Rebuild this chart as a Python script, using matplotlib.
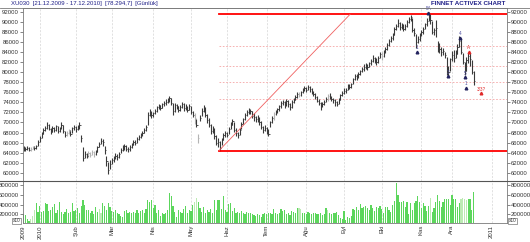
import matplotlib
matplotlib.use('Agg')
import matplotlib.pyplot as plt
import numpy as np

plt.rcParams['font.family'] = ['Liberation Sans Narrow', 'Liberation Sans', 'DejaVu Sans']

# daily XU030 bars, values in thousands
close = [64.9, 64.7, 65.0, 64.6, 64.8, 65.1, 64.9, 65.3, 66.2, 67.0,
         67.8, 68.6, 68.9, 69.6, 68.8, 68.2, 69.0, 68.5, 69.3, 68.4,
         68.9, 69.6, 68.3, 67.6, 67.9, 68.4, 67.8, 68.9, 69.2, 68.7,
         69.3, 69.6, 67.0, 63.0, 63.8, 63.4, 63.9, 63.6, 64.1, 63.7,
         64.2, 65.2, 65.8, 66.4, 66.2, 64.6, 62.4, 60.5, 61.8, 62.6,
         62.9, 63.4, 63.1, 63.8, 64.6, 65.0, 65.4, 64.8, 64.7, 65.1,
         65.6, 66.2, 66.0, 66.8, 67.2, 67.5, 68.0, 68.6, 69.2, 71.5,
         72.0, 71.4, 71.8, 72.2, 73.0, 73.4, 72.9, 73.6, 73.8, 74.1,
         74.3, 74.8, 73.9, 72.2, 73.4, 73.2, 72.5, 73.0, 73.6, 72.8,
         73.0, 72.4, 73.2, 72.0, 71.4, 70.8, 69.6, 66.9, 70.8, 72.2,
         72.8, 71.4, 70.4, 69.6, 68.4, 68.8, 67.4, 66.0, 66.2, 64.9,
         66.6, 67.6, 68.0, 67.6, 68.8, 69.6, 70.2, 68.6, 68.0, 67.6,
         68.6, 69.8, 70.6, 71.4, 72.0, 72.4, 72.2, 71.2, 71.0, 70.6,
         70.9, 70.0, 69.2, 68.6, 69.0, 68.2, 67.8, 70.0, 70.8, 71.6,
         72.0, 72.6, 73.2, 73.8, 74.0, 73.4, 74.2, 73.6, 73.0, 74.0,
         74.4, 75.0, 75.6, 75.4, 76.0, 76.4, 76.9, 76.5, 77.1, 76.6,
         75.9, 75.6, 75.0, 74.2, 73.8, 73.2, 73.6, 74.0, 74.6, 75.2,
         75.0, 74.6, 74.4, 74.0, 73.6, 74.4, 75.4, 75.8, 76.2, 76.5,
         77.2, 77.0, 77.6, 78.6, 79.2, 79.0, 79.6, 80.2, 80.6, 81.0,
         81.4, 81.0, 81.8, 82.2, 82.8, 82.4, 82.0, 82.9, 83.6, 83.2,
         84.0, 84.6, 85.4, 86.2, 86.8, 87.4, 88.6, 89.2, 89.8, 89.0,
         89.4, 88.6, 89.3, 90.0, 90.6, 91.0, 88.4, 87.8, 86.0, 86.6,
         87.4, 88.0, 88.6, 89.6, 90.2, 91.2, 90.4, 88.0, 88.4, 88.9,
         85.2, 84.6, 84.0, 84.2, 83.4, 80.2, 80.0, 82.6, 83.4, 82.8,
         83.6, 85.0, 86.2, 84.0, 82.0, 80.2, 82.4, 83.2, 82.6, 80.0, 78.3]

high = [65.3, 65.2, 65.3, 65.1, 65.2, 65.4, 65.4, 65.6, 66.5, 67.4,
        68.2, 69.0, 69.4, 70.0, 69.7, 68.9, 69.3, 69.2, 69.6, 69.4,
        69.2, 70.0, 69.6, 68.4, 68.4, 68.7, 68.5, 69.2, 69.6, 69.3,
        69.6, 70.0, 67.5, 65.2, 64.3, 64.0, 64.3, 64.2, 64.6, 64.3,
        64.6, 65.4, 66.1, 66.9, 66.7, 65.4, 63.4, 62.2, 62.6, 62.9,
        63.3, 63.9, 63.8, 64.2, 64.9, 65.6, 65.8, 65.5, 65.2, 65.5,
        65.9, 66.5, 66.6, 67.1, 67.6, 67.9, 68.4, 68.9, 69.6, 72.0,
        72.7, 72.3, 72.1, 72.6, 73.3, 73.7, 73.5, 73.9, 74.3, 74.6,
        74.8, 75.2, 74.9, 73.9, 73.8, 73.7, 73.3, 73.5, 74.1, 73.8,
        73.6, 73.2, 73.6, 73.3, 72.3, 71.8, 70.6, 67.8, 71.4, 72.8,
        73.5, 73.0, 71.6, 70.8, 69.7, 69.4, 68.9, 67.6, 66.9, 66.4,
        67.0, 68.0, 68.4, 68.2, 69.2, 70.0, 70.6, 70.1, 68.9, 68.2,
        68.9, 70.1, 70.9, 71.8, 72.4, 72.8, 72.7, 72.3, 71.8, 71.2,
        71.4, 71.1, 70.2, 69.4, 69.5, 69.2, 68.7, 70.3, 71.3, 72.0,
        72.4, 72.9, 73.5, 74.3, 74.5, 74.2, 74.6, 74.5, 73.8, 74.4,
        74.8, 75.4, 76.0, 76.1, 76.3, 76.8, 77.2, 77.1, 77.5, 77.3,
        76.8, 76.3, 75.9, 75.3, 74.6, 74.1, 74.0, 74.4, 75.0, 75.7,
        75.8, 75.2, 74.8, 74.6, 74.2, 74.8, 75.7, 76.3, 76.8, 76.9,
        77.6, 77.6, 77.9, 78.9, 79.7, 79.6, 80.0, 80.5, 81.1, 81.6,
        81.9, 81.7, 82.1, 82.7, 83.4, 83.1, 82.8, 83.3, 84.1, 84.0,
        84.4, 85.0, 85.9, 86.6, 87.3, 87.9, 89.0, 89.6, 90.7, 90.1,
        89.9, 89.6, 89.7, 90.4, 91.0, 91.5, 90.8, 88.9, 87.6, 87.3,
        87.8, 88.5, 89.1, 89.9, 90.9, 92.0, 91.6, 90.3, 88.9, 90.4,
        86.3, 85.8, 85.0, 84.8, 84.1, 83.1, 81.2, 82.9, 84.2, 84.4,
        84.4, 85.6, 87.2, 86.8, 83.8, 82.1, 83.0, 84.0, 83.9, 82.4, 80.2]

low = [64.4, 64.4, 64.5, 64.3, 64.4, 64.7, 64.6, 64.8, 65.3, 66.1,
       66.9, 67.8, 68.3, 68.7, 68.5, 67.8, 68.1, 68.1, 68.3, 68.0,
       68.1, 68.8, 68.0, 67.1, 67.3, 67.8, 67.4, 67.9, 68.6, 68.2,
       68.6, 68.8, 66.2, 62.4, 62.9, 63.0, 63.2, 63.1, 63.5, 63.2,
       63.6, 64.1, 65.1, 65.7, 65.3, 63.7, 61.4, 59.8, 60.8, 61.7,
       62.1, 62.7, 62.6, 62.9, 63.9, 64.4, 64.6, 64.3, 64.2, 64.4,
       64.9, 65.5, 65.6, 66.0, 66.6, 67.0, 67.3, 67.9, 68.4, 69.5,
       71.2, 70.8, 71.0, 71.7, 72.1, 72.7, 72.4, 72.8, 73.3, 73.5,
       73.8, 74.1, 73.5, 71.4, 72.1, 72.6, 72.0, 72.3, 72.9, 72.2,
       72.5, 72.0, 72.4, 71.7, 71.0, 69.8, 69.2, 65.9, 70.2, 71.3,
       72.0, 71.0, 69.9, 69.1, 67.8, 67.9, 66.8, 65.5, 65.1, 64.4,
       65.6, 66.6, 67.2, 67.2, 67.7, 68.8, 69.5, 68.2, 67.4, 66.9,
       67.6, 68.7, 69.8, 70.5, 71.2, 71.7, 71.6, 70.8, 70.3, 70.1,
       70.1, 69.6, 68.8, 68.0, 68.3, 67.8, 67.4, 69.2, 69.9, 70.5,
       71.4, 71.8, 72.3, 72.9, 73.4, 72.9, 73.2, 73.1, 72.5, 72.8,
       73.8, 74.4, 74.8, 75.0, 75.3, 75.8, 76.3, 76.1, 76.4, 76.1,
       75.6, 75.2, 74.7, 74.0, 73.4, 72.5, 73.0, 73.4, 74.0, 74.3,
       74.6, 74.2, 73.9, 73.3, 73.2, 73.6, 74.5, 75.2, 75.6, 75.9,
       76.5, 76.7, 76.9, 77.6, 78.4, 78.5, 78.8, 79.4, 80.0, 80.3,
       80.6, 80.5, 81.0, 81.4, 82.0, 81.9, 81.4, 81.9, 82.8, 82.5,
       83.1, 83.8, 84.5, 85.3, 86.0, 86.4, 87.4, 88.4, 89.0, 88.5,
       88.7, 88.2, 88.4, 89.1, 89.9, 90.3, 88.1, 87.3, 84.9, 85.8,
       86.2, 87.2, 87.6, 88.6, 89.2, 90.2, 89.6, 87.6, 87.4, 87.1,
       84.0, 83.8, 83.2, 83.5, 82.8, 79.5, 79.3, 80.2, 82.3, 82.1,
       82.9, 83.6, 85.0, 83.6, 81.7, 79.4, 80.2, 81.8, 81.3, 79.6, 77.4]

# volume in hundred thousands
volume = [2.0, 1.8, 1.1, 0.7, 1.0, 1.6, 2.9, 4.4, 2.6, 3.7,
          2.6, 2.8, 4.3, 4.2, 2.8, 3.0, 3.6, 4.2, 2.4, 3.0,
          4.5, 2.6, 2.0, 2.6, 3.2, 2.4, 2.5, 4.3, 2.8, 3.0,
          3.4, 2.4, 3.8, 5.0, 4.0, 3.0, 3.0, 2.2, 2.8, 2.0,
          3.6, 2.6, 3.2, 2.4, 4.3, 3.8, 3.0, 4.4, 3.6, 2.8,
          2.6, 3.0, 2.4, 2.0, 1.6, 1.5, 2.8, 3.0, 2.2, 2.6,
          2.4, 2.6, 2.2, 3.0, 2.4, 2.8, 3.0, 2.2, 3.2, 5.0,
          4.6, 5.0, 3.4, 4.0, 2.4, 3.0, 1.6, 2.2, 2.0, 2.4,
          3.0, 6.5, 5.7, 3.8, 2.6, 1.4, 3.0, 2.6, 2.4, 3.2,
          3.7, 2.4, 3.0, 2.8, 4.0, 4.5, 5.3, 4.6, 3.4, 2.6,
          3.6, 2.4, 3.0, 2.6, 3.2, 2.4, 5.0, 3.0, 5.0, 4.9,
          3.2, 5.8, 3.0, 2.6, 4.2, 4.4, 2.8, 3.4, 2.4, 2.6,
          2.2, 2.8, 2.4, 2.0, 2.6, 2.4, 2.2, 2.0, 1.8, 1.6,
          2.0, 1.8, 1.5, 2.0, 2.2, 2.1, 2.4, 2.3, 2.0, 3.1,
          2.2, 2.0, 2.4, 3.1, 2.8, 3.0, 2.0, 2.2, 1.8, 2.8,
          2.5, 2.2, 3.3, 3.4, 3.2, 2.4, 2.2, 2.0, 2.6, 2.3,
          2.0, 2.2, 2.4, 2.0, 2.1, 2.3, 1.9, 2.0, 3.4, 3.0,
          2.2, 2.0, 2.4, 2.2, 2.6, 1.8, 1.2, 1.0, 2.8, 0.9,
          1.4, 1.2, 1.6, 3.2, 3.0, 3.6, 3.0, 4.1, 3.4, 3.6,
          3.8, 3.3, 3.0, 4.0, 3.4, 2.8, 3.5, 3.4, 3.8, 3.2,
          2.2, 3.5, 3.6, 3.0, 2.6, 4.0, 4.8, 8.5, 6.0, 4.6,
          4.6, 4.8, 3.6, 4.6, 2.0, 4.4, 3.0, 4.3, 4.8, 5.7,
          4.6, 3.4, 4.3, 3.8, 2.8, 3.7, 5.3, 2.6, 3.4, 4.6,
          6.0, 4.8, 3.6, 4.6, 5.2, 5.2, 5.2, 4.0, 6.0, 5.2,
          5.2, 3.6, 4.4, 5.2, 5.3, 5.2, 5.0, 5.2, 5.2, 3.0, 6.7]

light_price = [4, 5, 24, 25, 36, 37, 38, 39, 95, 97, 139, 153, 169, 199]
light_volume = [4, 5, 6, 42, 43, 95, 96, 153, 154, 169, 226, 243, 244, 245, 246]

month_pos = [0, 9, 29, 49, 72, 93, 113, 135, 157, 178, 199, 221, 238, 260]
month_labels = ['2009', '2010', 'Şub', 'Mar', 'Nis', 'May', 'Haz', 'Tem',
                'Ağu', 'Eyl', 'Eki', 'Kas', 'Ara', '2011']

# elliott style wave marks
wave_idx = [218.4, 224.8, 236.0, 242.4, 245.4, 247.4, 245.6, 254.4]
wave_val = [84.0, 91.9, 79.2, 86.9, 79.0, 84.1, 76.9, 75.8]
wave_text = ['1', '5A', '3', '4', '5', 'A', '1', '3/3?']
wave_red = [False, False, False, False, False, True, False, True]

# fibonacci drawing
fib_start = 108.6
fib_top = 91.54
fib_bottom = 64.4
fib_cross = 181.4
fib_ratios = [0.236, 0.382, 0.5, 0.618]

idx = np.arange(len(close))
close = np.array(close) * 1000
high = np.array(high) * 1000
low = np.array(low) * 1000
volume = np.array(volume) * 100000

W, H = 530, 242
fig = plt.figure(figsize=(W / 100, H / 100), dpi=100)
fig.patch.set_facecolor('white')
ax = fig.add_axes([23 / W, (H - 181) / H, 484 / W, 173 / H])
axv = fig.add_axes([23 / W, (H - 223) / H, 484 / W, 42 / H], sharex=ax)

dark = '#3a3a3a'
light = '#b4b4b4'
bar_colors = [light if i in light_price else dark for i in idx]
ax.vlines(idx, low, high, colors=bar_colors, lw=0.8)
ax.hlines(close, idx, idx + 0.7, colors=bar_colors, lw=0.6)

# fib lines
xr = 268.6
ax.plot([fib_start, xr], [fib_top * 1000] * 2, color='#ff0000', lw=1.3, zorder=4)
ax.plot([fib_start, xr], [fib_bottom * 1000] * 2, color='#ff0000', lw=1.3, zorder=4)
ax.plot([fib_start, fib_cross], [fib_bottom * 1000, fib_top * 1000], color='#f06060', lw=0.6, zorder=4)
for r in fib_ratios:
    lvl = (fib_top - r * (fib_top - fib_bottom)) * 1000
    ax.plot([fib_start, xr], [lvl, lvl], color='#f5a5a5', lw=0.6, ls=(0, (2, 2)), zorder=1)

for xw, yw, t, red in zip(wave_idx, wave_val, wave_text, wave_red):
    c = '#e02828' if red else '#23235e'
    ax.plot(xw, yw * 1000, marker='^', ms=1.9, color=c, mec=c, zorder=5)
    ax.text(xw, yw * 1000 + 350, t, color=c if red else '#5050a0', fontsize=3.3,
            ha='center', va='bottom', zorder=5, clip_on=False)

vol_colors = ['#bdeab4' if i in light_volume else '#5cd65c' for i in idx]
axv.bar(idx, volume, width=0.65, color=vol_colors, lw=0)

for a in (ax, axv):
    for p in month_pos[1:]:
        a.axvline(p, color='#d4d4d4', lw=0.5, ls=(0, (3, 2)), zorder=0)
    for s in a.spines.values():
        s.set_color('#7a7a7a')
        s.set_linewidth(0.6)
    a.tick_params(axis='y', left=True, right=True, labelleft=True, labelright=True,
                  length=2, width=0.5, color='#555555', labelsize=4.3, pad=0.8,
                  labelcolor='#333333')

ax.set_xlim(-0.3, xr)
ax.set_ylim(58350, 92800)
ax.set_yticks(np.arange(60000, 92001, 2000))
ax.tick_params(axis='x', bottom=False, labelbottom=False)

axv.set_ylim(25000, 886000)
axv.set_yticks([200000, 400000, 600000, 800000])
axv.set_xticks(month_pos)
axv.set_xticklabels(month_labels, rotation=90, fontsize=4.3, color='#333333')
axv.tick_params(axis='x', length=0, pad=1.5)

# frame lines across the figure
fig.add_artist(plt.Line2D([0, 1], [(H - 8) / H] * 2, color='#7a7a7a', lw=0.6))
fig.add_artist(plt.Line2D([0, 1], [(H - 181) / H] * 2, color='#555555', lw=0.8))

fig.text(11 / W, (H - 3.5) / H, 'XU030  [21.12.2009 - 17.12.2010]  [78.294,7]  [Günlük]',
         color='#202088', fontsize=4.3, va='center', ha='left')
fig.text(505 / W, (H - 3.5) / H, 'FINNET ACTIVEX CHART', color='#202088',
         fontsize=4.5, fontweight='bold', va='center', ha='right')

for xb in (13, 509):
    fig.text(xb / W, (H - 221) / H, 'x10', fontsize=3.4, color='#333333', va='center', ha='left',
             bbox=dict(boxstyle='square,pad=0.15', fc='white', ec='#555555', lw=0.4))

fig.savefig('out.png', dpi=100)
